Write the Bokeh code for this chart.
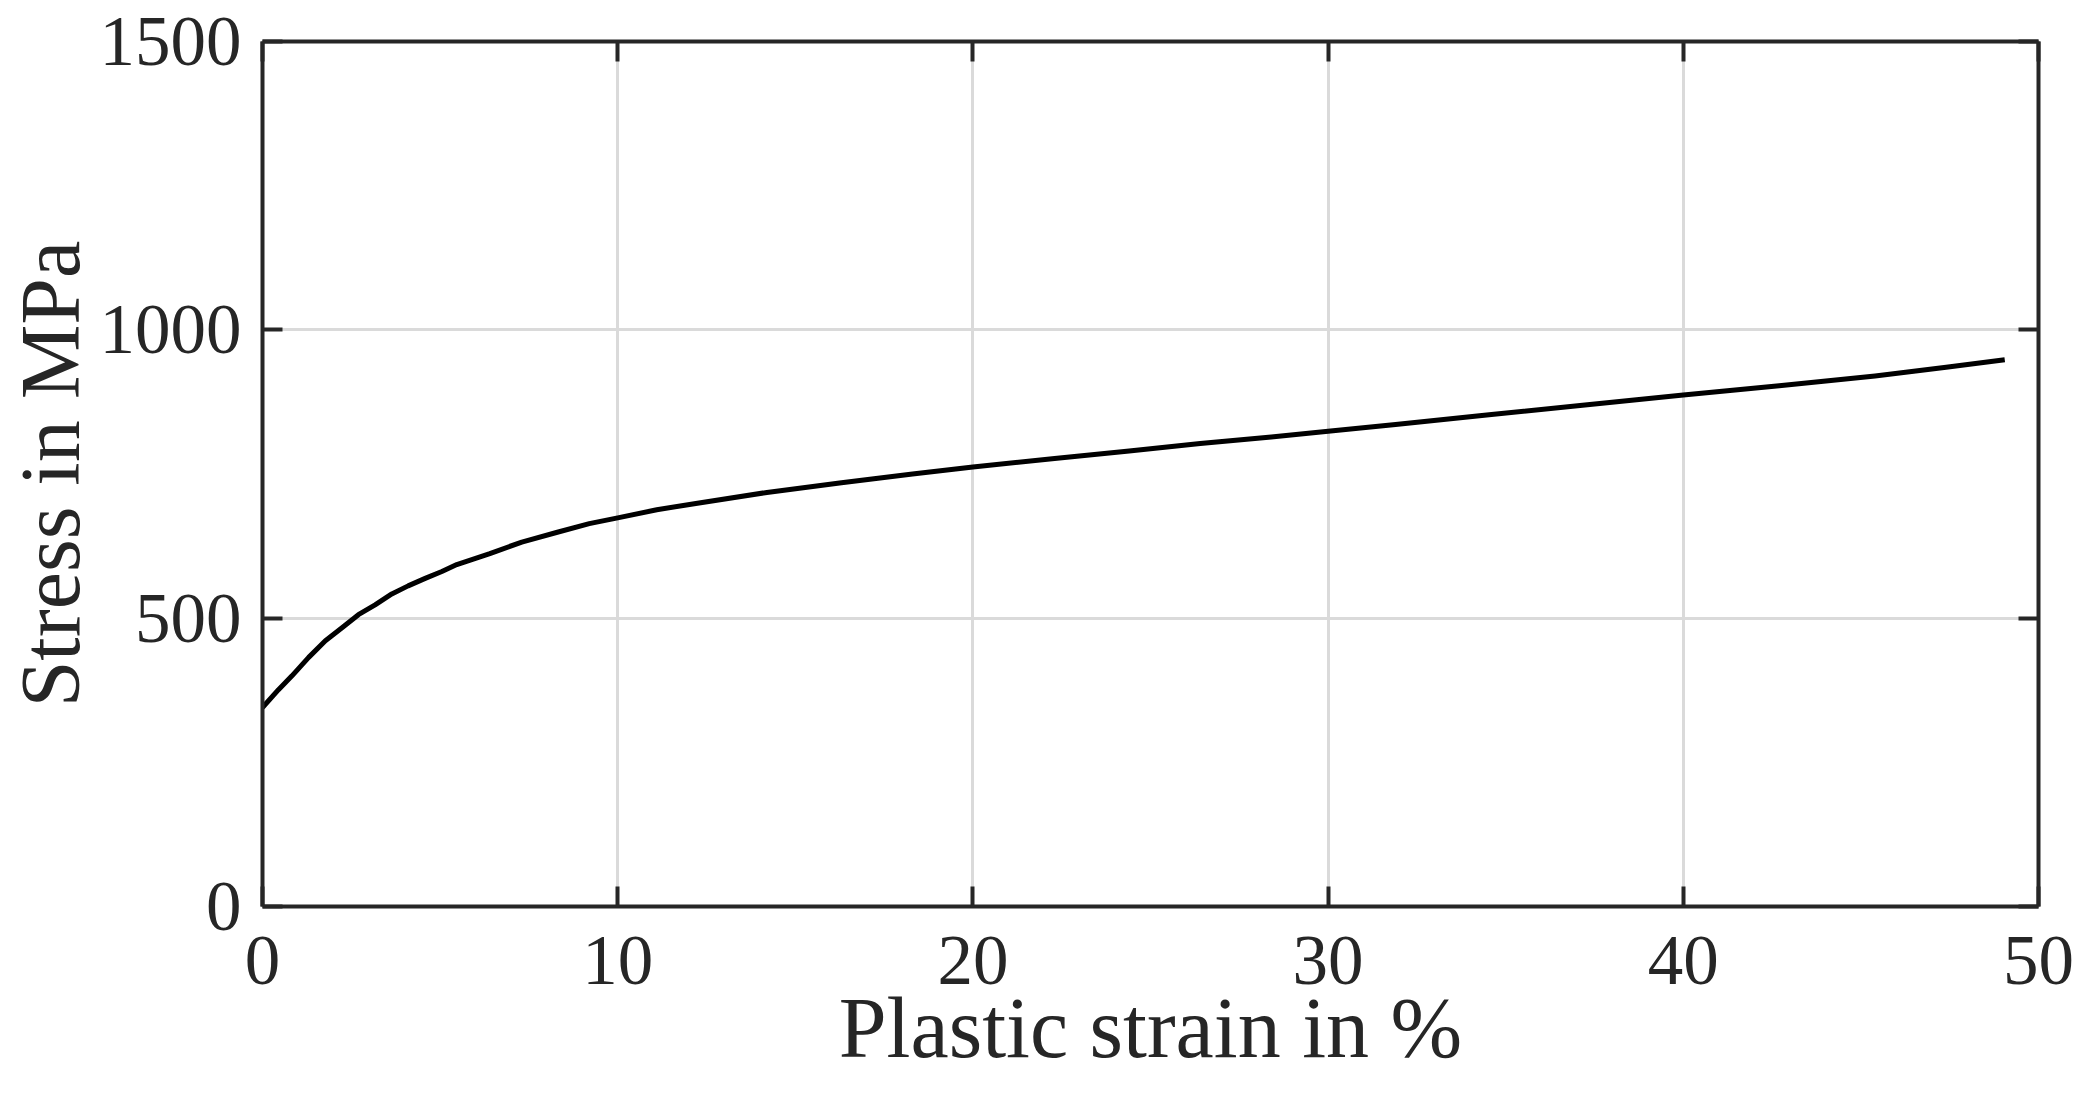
from bokeh.plotting import figure
from bokeh.models import Range1d, LinearAxis, FixedTicker, CustomJSTickFormatter
from bokeh.embed import file_html
from bokeh.resources import INLINE

# Plastic strain (%) and stress (MPa)
strain = [0, 0.45, 0.83, 1.3, 1.77, 2.23, 2.7, 3.17, 3.64, 4.1, 4.58, 5.05,
          5.47, 6.4, 7.3, 8.3, 9.2, 10, 11.1, 12.2, 14.2, 16.3, 18.3, 20,
          22.3, 24.4, 26.4, 28.4, 30, 31.9, 34.6, 37.3, 40, 42.7, 45.4, 47.4,
          49.05]
stress = [345, 376, 400, 432, 461, 483, 506, 523, 542, 556, 569, 581,
          593, 612, 632, 649, 664, 674, 688, 699, 718, 735, 750, 762,
          777, 790, 803, 814, 824, 836, 853, 870, 887, 903, 920, 935,
          948]

x_ticks = [0, 10, 20, 30, 40, 50]
y_ticks = [0, 500, 1000, 1500]
x_label = "Plastic strain in %"
y_label = "Stress in MPa"

FONT = "Liberation Serif"
DARK = "#262626"

p = figure(width=2074, height=1086, output_backend="svg", toolbar_location=None,
           x_range=Range1d(0, 50), y_range=Range1d(0, 1500),
           min_border_left=262, min_border_right=36, min_border_top=41,
           min_border_bottom=180, outline_line_color=None)
p.background_fill_color = "white"
p.border_fill_color = "white"

p.line(strain, stress, line_color="black", line_width=5, line_join="round")

def style(ax, ticks, labels=True):
    ax.ticker = FixedTicker(ticks=ticks)
    ax.axis_line_color = DARK
    ax.axis_line_width = 4
    ax.major_tick_line_color = DARK
    ax.major_tick_line_width = 4
    ax.major_tick_in = 20
    ax.major_tick_out = 0
    ax.minor_tick_line_color = None
    ax.major_label_text_font = FONT
    ax.major_label_text_color = DARK
    ax.major_label_text_font_size = "71px"
    ax.axis_label_text_font = FONT
    ax.axis_label_text_color = DARK
    ax.axis_label_text_font_size = "84px"
    ax.axis_label_text_font_style = "normal"
    if not labels:
        ax.formatter = CustomJSTickFormatter(code="return ''")
        ax.major_label_standoff = 0

xa = p.xaxis[0]
ya = p.yaxis[0]
style(xa, x_ticks)
style(ya, y_ticks)
xa.axis_label = x_label
ya.axis_label = y_label
xa.axis_label_text_font_size = "86px"
xa.major_label_standoff = 30
xa.axis_label_standoff = -7
ya.major_label_standoff = 21
ya.axis_label_standoff = 0

top = LinearAxis()
right = LinearAxis()
style(top, x_ticks, labels=False)
style(right, y_ticks, labels=False)
p.add_layout(top, "above")
p.add_layout(right, "right")

p.xgrid.ticker = FixedTicker(ticks=x_ticks)
p.ygrid.ticker = FixedTicker(ticks=y_ticks)
for g in (p.xgrid[0], p.ygrid[0]):
    g.grid_line_color = "#dadada"
    g.grid_line_width = 3

open("out.html", "w").write(file_html(p, INLINE))
